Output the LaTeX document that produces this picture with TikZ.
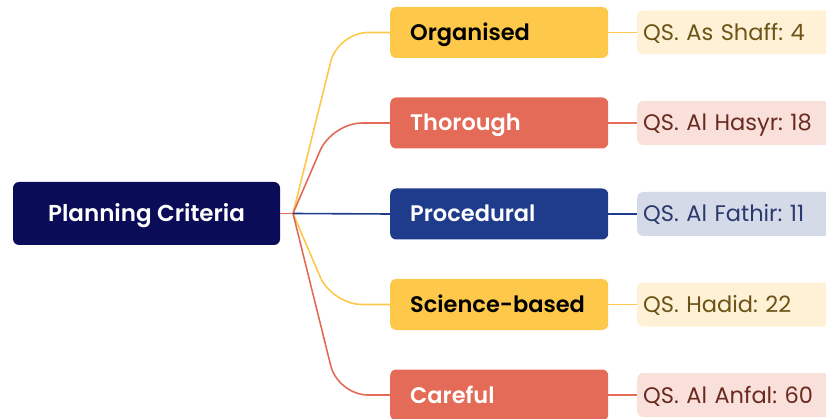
\documentclass[tikz,border=0pt]{standalone}
\usepackage{fontspec}
\setmainfont{Poppins}
\newfontfamily\semib{Poppins SemiBold}
\frenchspacing
\definecolor{rootc}{HTML}{0B0C58}
\definecolor{yel}{HTML}{FEC84A}
\definecolor{red}{HTML}{E36B58}
\definecolor{blu}{HTML}{1F3C8C}
\definecolor{yell}{HTML}{FFF1D6}
\definecolor{redl}{HTML}{F9E0DB}
\definecolor{blul}{HTML}{D5DAE9}
\definecolor{yelt}{HTML}{6B5416}
\definecolor{redt}{HTML}{6A2A20}
\definecolor{blut}{HTML}{2A3A6E}
\tikzset{
  rootbox/.style={fill=rootc, text=white, rounded corners=6pt, minimum width=267pt, minimum height=63pt, inner sep=0pt, text height=16pt, text depth=0pt, font=\fontsize{23}{26}\selectfont\semib},
  branch/.style={rounded corners=6pt, anchor=west, text width=178pt, inner xsep=20pt, inner ysep=0pt, align=left, minimum height=51pt, text height=16pt, text depth=0pt, font=\fontsize{22.5}{26}\selectfont\semib},
  leaf/.style={rounded corners=6pt, anchor=west, text width=230pt, inner xsep=6pt, inner ysep=0pt, align=left, minimum height=44pt, text height=16pt, text depth=0pt, font=\fontsize{22.5}{26}\selectfont\frenchspacing},
  conn/.style={line width=1.6pt, rounded corners=30pt},
  lconn/.style={line width=1.6pt}
}
\begin{document}
\begin{tikzpicture}[x=1pt, y=-1pt]
\useasboundingbox (0,0) rectangle (826,419);
\clip (0,0) rectangle (826,419);
\node[rootbox] (root) at (146.5,213.5) {Planning Criteria};
\coordinate (hub) at (293,213.5);

\node[branch, fill=yel, text=black] (b1) at (390,32.5) {Organised};
\node[branch, fill=red, text=white] (b2) at (390,123) {Thorough};
\node[branch, fill=blu, text=white] (b3) at (390,214) {Procedural};
\node[branch, fill=yel, text=black] (b4) at (390,304.5) {\mbox{Science-based}};
\node[branch, fill=red, text=white] (b5) at (390,395) {Careful};

\node[leaf, fill=yell, text=yelt] (l1) at (637,32.5) {QS. As Shaff: 4};
\node[leaf, fill=redl, text=redt] (l2) at (637,123) {QS. Al Hasyr: 18};
\node[leaf, fill=blul, text=blut] (l3) at (637,214) {QS. Al Fathir: 11};
\node[leaf, fill=yell, text=yelt] (l4) at (637,304.5) {QS. Hadid: 22};
\node[leaf, fill=redl, text=redt] (l5) at (637,395) {QS. Al Anfal: 60};

\draw[conn, yel] (hub) -- (338,32.5) -- (b1.west);
\draw[conn, red] (hub) -- (332,123) -- (b2.west);
\draw[conn, yel] (hub) -- (332,304.5) -- (b4.west);
\draw[conn, red] (hub) -- (338,395) -- (b5.west);
\draw[lconn, blu] (hub) -- (b3.west);
\draw[lconn, red] (root.east) -- (hub);

\draw[lconn, yel] (b1.east) -- (l1.west);
\draw[lconn, red] (b2.east) -- (l2.west);
\draw[lconn, blu] (b3.east) -- (l3.west);
\draw[lconn, yel] (b4.east) -- (l4.west);
\draw[lconn, red] (b5.east) -- (l5.west);
\end{tikzpicture}
\end{document}
